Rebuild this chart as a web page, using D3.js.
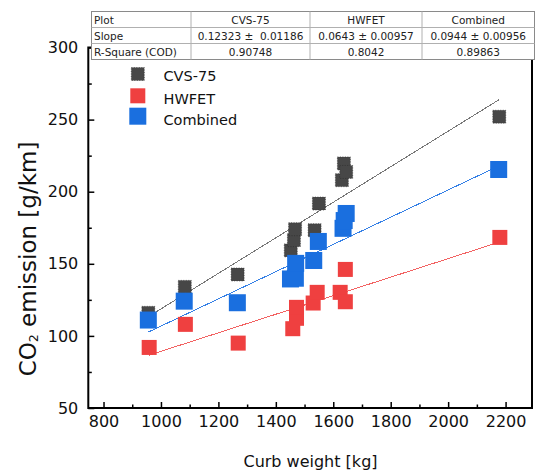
<!DOCTYPE html>
<html>
<head>
<meta charset="utf-8">
<script src="https://cdn.jsdelivr.net/npm/d3@7/dist/d3.min.js"></script>
<style>
  html, body { margin: 0; padding: 0; background: #fff; }
  svg { display: block; font-family: "DejaVu Sans", Verdana, sans-serif; }
</style>
</head>
<body>
<svg id="chart" width="535" height="472"></svg>
<script>
// ---- data ----
const seriesNames = ["CVS-75", "HWFET", "Combined"];
const cvsX  = [956, 1083, 1267, 1452, 1463, 1467, 1535, 1550, 1630, 1637, 1645, 2178];
const cvsY  = [116, 134, 142.6, 159.3, 166.4, 174, 173.3, 191.8, 208, 219.6, 213.7, 252];
const hwX   = [959, 1085, 1269, 1459, 1472, 1472, 1530, 1544, 1624, 1642, 1642, 2180];
const hwY   = [92, 108, 95, 105, 112.2, 119.8, 122.8, 130.2, 130.2, 146.1, 123.7, 168.3];
const combX = [956, 1081, 1266, 1451, 1468, 1469, 1532, 1548, 1634, 1645, 1638, 2176];
const combY = [111, 124.1, 123, 139.5, 140, 150.3, 152.3, 165.5, 174.6, 184.9, 180, 215.4];

// linear fits: slope (from table) and intercept
const fitSlopes     = [0.12323, 0.0643, 0.0944];
const fitIntercepts = [-4.5, 25.0, 12.4];

// table contents
const tableHeader = ["Plot", "CVS-75", "HWFET", "Combined"];
const tableSlope  = ["Slope", "0.12323 \u00B1  0.01186", "0.0643 \u00B1 0.00957", "0.0944 \u00B1 0.00956"];
const tableR2     = ["R-Square (COD)", "0.90748", "0.8042", "0.89863"];

const xTicks = [800, 1000, 1200, 1400, 1600, 1800, 2000, 2200];
const xMinor = [900, 1100, 1300, 1500, 1700, 1900, 2100];
const yTicks = [50, 100, 150, 200, 250, 300];
const yMinor = [75, 125, 175, 225, 275];

// ---- styles ----
const fillColors = ["#474747", "#ef4040", "#1a6fdf"];
const lineColors = ["#777777", "#f26262", "#3580e6"];
const sizes = [13, 15, 17];

const svg = d3.select("#chart");
const x = d3.scaleLinear().domain([747, 2292]).range([88.3, 532]);
const y = d3.scaleLinear().domain([50, 300]).range([408, 47.5]);

const series = [
  { name: seriesNames[0], xs: cvsX, ys: cvsY },
  { name: seriesNames[1], xs: hwX, ys: hwY },
  { name: seriesNames[2], xs: combX, ys: combY }
];

// fit lines (behind markers)
series.forEach((s, i) => {
  const x0 = d3.min(s.xs), x1 = d3.max(s.xs);
  svg.append("line")
    .attr("x1", x(x0)).attr("y1", y(fitIntercepts[i] + fitSlopes[i] * x0))
    .attr("x2", x(x1)).attr("y2", y(fitIntercepts[i] + fitSlopes[i] * x1))
    .attr("stroke", lineColors[i]).attr("stroke-width", 1)
    .attr("shape-rendering", "crispEdges");
});

// markers
function styleMarker(sel, i) {
  sel.attr("fill", fillColors[i])
    .attr("stroke", i === 0 ? "#2a2a2a" : "none")
    .attr("stroke-width", i === 0 ? 0.6 : 0)
    .attr("stroke-dasharray", i === 0 ? "1,1.5" : null);
}
series.forEach((s, i) => {
  const pts = s.xs.map((v, k) => [v, s.ys[k]]);
  const sz = sizes[i];
  const g = svg.append("g");
  g.selectAll("rect").data(pts).enter().append("rect")
    .attr("x", d => x(d[0]) - sz / 2)
    .attr("y", d => y(d[1]) - sz / 2)
    .attr("width", sz).attr("height", sz)
    .call(styleMarker, i);
});

// frame
const fx0 = x.range()[0], fx1 = x.range()[1];
const fy0 = y.range()[1], fy1 = y.range()[0];
svg.append("rect")
  .attr("x", fx0).attr("y", fy0)
  .attr("width", fx1 - fx0).attr("height", fy1 - fy0)
  .attr("fill", "none").attr("stroke", "#000").attr("stroke-width", 2);

// x ticks (inward)
const xAxis = d3.axisBottom(x).tickValues(xTicks).tickSize(-6).tickPadding(8)
  .tickFormat(d3.format("d"));
const gx = svg.append("g").attr("transform", `translate(0,${fy1})`).call(xAxis);
gx.select(".domain").remove();
gx.selectAll(".tick line").attr("stroke", "#000").attr("stroke-width", 1.5);
gx.selectAll("text").attr("font-size", 16).attr("fill", "#111")
  .attr("font-family", "DejaVu Sans, sans-serif");
const gxm = svg.append("g").attr("transform", `translate(0,${fy1})`)
  .call(d3.axisBottom(x).tickValues(xMinor).tickSize(-3.5).tickFormat(""));
gxm.select(".domain").remove();
gxm.selectAll(".tick line").attr("stroke", "#000").attr("stroke-width", 1.5);

// y ticks (inward)
const yAxis = d3.axisLeft(y).tickValues(yTicks).tickSize(-6).tickPadding(10);
const gy = svg.append("g").attr("transform", `translate(${fx0},0)`).call(yAxis);
gy.select(".domain").remove();
gy.selectAll(".tick line").attr("stroke", "#000").attr("stroke-width", 1.5);
gy.selectAll("text").attr("font-size", 16).attr("fill", "#111")
  .attr("font-family", "DejaVu Sans, sans-serif");
const gym = svg.append("g").attr("transform", `translate(${fx0},0)`)
  .call(d3.axisLeft(y).tickValues(yMinor).tickSize(-3.5).tickFormat(""));
gym.select(".domain").remove();
gym.selectAll(".tick line").attr("stroke", "#000").attr("stroke-width", 1.5);

// axis titles
svg.append("text")
  .attr("x", 310.5).attr("y", 467)
  .attr("text-anchor", "middle").attr("font-size", 16).attr("fill", "#111")
  .text("Curb weight [kg]");

const yt = svg.append("text")
  .attr("transform", "translate(36,259) rotate(-90)")
  .attr("text-anchor", "middle").attr("font-size", 23).attr("fill", "#111");
yt.append("tspan").text("CO");
yt.append("tspan").attr("font-size", 12.5).attr("dy", 2).text("2");
yt.append("tspan").attr("dy", -2).text(" emission [g/km]");

// legend
const legY = [74, 95.8, 116.2];
series.forEach((s, i) => {
  const sz = sizes[i];
  svg.append("rect")
    .attr("x", 137.8 - sz / 2).attr("y", legY[i] - sz / 2)
    .attr("width", sz).attr("height", sz)
    .call(styleMarker, i);
  svg.append("text")
    .attr("x", 163.5).attr("y", [80.5, 103.5, 124.5][i])
    .attr("font-size", 14.5).attr("fill", "#111")
    .text(s.name);
});

// table (drawn over the top frame)
const colEdges = [91.5, 191, 310, 422, 534.5];
const rowEdges = [11.5, 27.5, 43.5, 59.5];
const rows = [tableHeader, tableSlope, tableR2];
const tg = svg.append("g");
tg.append("rect")
  .attr("x", colEdges[0]).attr("y", rowEdges[0])
  .attr("width", colEdges[4] - colEdges[0]).attr("height", rowEdges[3] - rowEdges[0])
  .attr("fill", "#fff").attr("stroke", "#8a8a8a").attr("stroke-width", 1);
[1, 2, 3].forEach(c => tg.append("line")
  .attr("x1", colEdges[c]).attr("x2", colEdges[c])
  .attr("y1", rowEdges[0]).attr("y2", rowEdges[3])
  .attr("stroke", "#b0b0b0").attr("stroke-width", 1));
[1, 2].forEach(r => tg.append("line")
  .attr("x1", colEdges[0]).attr("x2", colEdges[4])
  .attr("y1", rowEdges[r]).attr("y2", rowEdges[r])
  .attr("stroke", "#b0b0b0").attr("stroke-width", 1));
rows.forEach((row, r) => {
  row.forEach((txt, c) => {
    tg.append("text")
      .attr("x", c === 0 ? colEdges[0] + 2.5 : (colEdges[c] + colEdges[c + 1]) / 2)
      .attr("y", (rowEdges[r] + rowEdges[r + 1]) / 2 + 4)
      .attr("text-anchor", c === 0 ? "start" : "middle")
      .attr("font-size", 10.5).attr("fill", "#222")
      .style("white-space", "pre")
      .text(txt);
  });
});
</script>
</body>
</html>
